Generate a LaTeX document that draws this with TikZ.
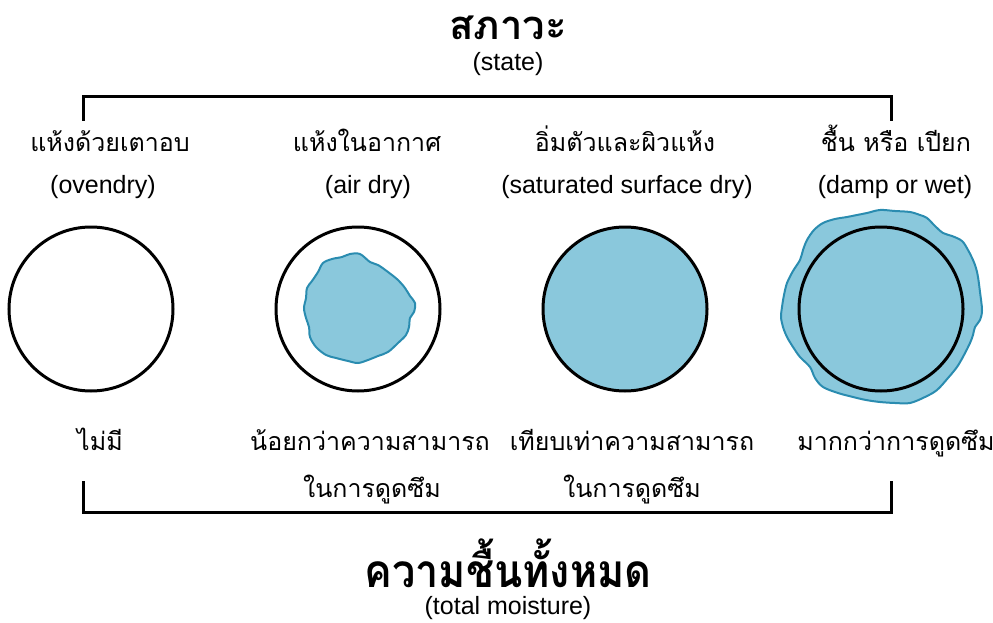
\documentclass[tikz,border=0pt]{standalone}
\usepackage{fontspec}
\setmainfont{Liberation Sans}
\newfontfamily\thai[Script=Thai]{Loma}
\newfontfamily\thaibig[Script=Thai,FakeStretch=0.9]{Loma}
\definecolor{wfill}{HTML}{8AC8DC}
\definecolor{wline}{HTML}{2A8CB0}
\tikzset{
  lab/.style={font=\thai\fontsize{25}{29}\selectfont, inner sep=0pt, anchor=base},
  en/.style={font=\fontsize{25}{29}\selectfont, inner sep=0pt, anchor=base},
  ring/.style={circle, draw=black, line width=3pt, minimum size=164pt, inner sep=0pt},
  blob/.style={fill=wfill, draw=wline, line width=2pt},
  bracket/.style={line width=3pt, line cap=rect},
}
\begin{document}
\begin{tikzpicture}[x=1pt,y=-1pt]
\useasboundingbox (0,0) rectangle (993,623);
% titles
\node[font=\thai\bfseries\fontsize{40}{44}\selectfont, inner sep=0pt, anchor=base] (title) at (508,40) {สภาวะ};
\node[en] (state) at (508,71) {(state)};
% top bracket
\coordinate (tl) at (83,120);
\coordinate (tlc) at (83,97);
\coordinate (trc) at (891,97);
\coordinate (tr) at (891,120);
\draw[bracket] (tl) -- (tlc) -- (trc) -- (tr);
% state labels
\node[lab] (s1) at (110,152) {แห้งด้วยเตาอบ};
\node[lab] (s2) at (367,152) {แห้งในอากาศ};
\node[lab] (s3) at (625,152) {อิ่มตัวและผิวแห้ง};
\node[lab] (s4) at (896,152) {ชื้น หรือ เปียก};
\node[en] (e1) at (103,193) {(ovendry)};
\node[en] (e2) at (368,193) {(air dry)};
\node[en] (e3) at (627,193) {(saturated surface dry)};
\node[en] (e4) at (895,193) {(damp or wet)};
% circles
\node[ring] (c1) at (91,309) {};
\node[ring] (c2) at (358,309) {};
\draw[blob] plot[smooth cycle, tension=0.55] coordinates {
 (350,254) (360,254) (370,262) (378,265) (388,272) (398,280) (405,288) (410,296)
 (415,303) (414,312) (410,318) (409,327) (406,335) (398,343) (388,352) (378,356)
 (368,360) (358,363) (348,361) (336,358) (326,355) (316,347) (310,337) (309,327)
 (306,318) (304,308) (306,298) (307,288) (312,281) (318,272) (323,263) (332,259) (342,257)};
\node[ring, fill=wfill] (c3) at (625,309) {};
\draw[blob] plot[smooth cycle, tension=0.55] coordinates {
 (880,210) (895,211) (910,212) (920,215) (927,218) (935,226) (943,233) (952,236)
 (962,241) (968,250) (973,260) (976,268) (978,277) (980,292) (982,310) (980,320)
 (975,327) (973,335) (970,343) (964,355) (957,367) (948,378) (937,390) (925,397)
 (910,403) (895,403) (880,402) (866,400) (853,397) (838,393) (823,387) (815,378)
 (810,367) (800,357) (793,347) (787,337) (783,327) (781,317) (782,307) (784,295)
 (787,283) (793,271) (800,260) (803,250) (807,240) (814,230) (823,223) (835,219)
 (847,217) (857,215) (867,213)};
\node[ring] (c4) at (881,309) {};
% amount labels
\node[lab] (m1) at (100,450) {ไม่มี};
\node[lab] (m2) at (370,450) {น้อยกว่าความสามารถ};
\node[lab] (m2b) at (372,497) {ในการดูดซึม};
\node[lab] (m3) at (632,450) {เทียบเท่าความสามารถ};
\node[lab] (m3b) at (632,497) {ในการดูดซึม};
\node[lab] (m4) at (896,450) {มากกว่าการดูดซึม};
% bottom bracket
\coordinate (bl) at (83,482);
\coordinate (blc) at (83,512);
\coordinate (brc) at (891,512);
\coordinate (br) at (891,482);
\draw[bracket] (bl) -- (blc) -- (brc) -- (br);
% bottom title
\node[font=\thaibig\bfseries\fontsize{46}{52}\selectfont, inner sep=0pt, anchor=base] (total) at (508,587) {ความชื้นทั้งหมด};
\node[en] (tm) at (508,614) {(total moisture)};
\end{tikzpicture}
\end{document}
